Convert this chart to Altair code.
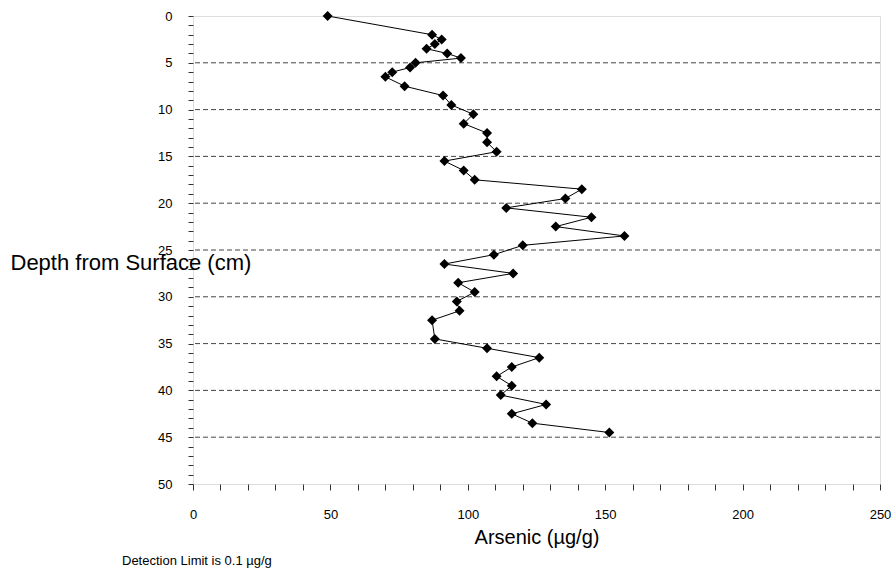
import altair as alt
import pandas as pd

depth = [0, 2, 2.5, 3, 3.5, 4, 4.5, 5, 5.5, 6, 6.5,
         7.5, 8.5, 9.5, 10.5, 11.5, 12.5, 13.5, 14.5, 15.5, 16.5,
         17.5, 18.5, 19.5, 20.5, 21.5, 22.5, 23.5, 24.5, 25.5, 26.5,
         27.5, 28.5, 29.5, 30.5, 31.5, 32.5,
         34.5, 35.5, 36.5, 37.5, 38.5, 39.5, 40.5, 41.5, 42.5, 43.5, 44.5]
arsenic = [49, 87, 90.5, 88, 85, 92.5, 97.5, 81, 79, 72.5, 70,
           77, 91, 94, 102, 98.5, 107, 107, 110.5, 91.5, 98.5,
           102.5, 141.5, 135.5, 114, 145, 132, 157, 120, 109.5, 91.5,
           116.5, 96.5, 102.5, 96, 97, 87,
           88, 107, 126, 116, 110.5, 116, 112, 128.5, 116, 123.5, 151.5]
grid_depths = [5, 10, 15, 20, 25, 30, 35, 40, 45]
x_ticks = list(range(0, 251, 10))
y_ticks = list(range(0, 51, 1))

FONT = "Liberation Sans"

df = pd.DataFrame({"depth": depth, "arsenic": arsenic})
gdf = pd.DataFrame({"depth": grid_depths})

xscale = alt.Scale(domain=[0, 250], nice=False, zero=False)
yscale = alt.Scale(domain=[0, 50], reverse=True, nice=False, zero=False)

x_axis = alt.Axis(values=x_ticks, title="Arsenic (µg/g)",
                  labelExpr="datum.value % 50 === 0 ? datum.label : ''",
                  labelOverlap=False, labelFlush=False,
                  grid=False, tickSize=6, tickColor="#333", domain=False,
                  labelPadding=18, labelFontSize=13, labelFont=FONT, labelColor="black",
                  titleFont=FONT, titleFontSize=20, titleFontWeight="normal",
                  titleColor="black", titlePadding=6)
y_axis = alt.Axis(values=y_ticks, title="Depth from Surface (cm)",
                  labelExpr="datum.value % 5 === 0 ? datum.label : ''",
                  labelOverlap=False, labelFlush=False,
                  grid=False, tickSize=5, tickColor="#333", domain=False,
                  labelPadding=16, labelFontSize=13, labelFont=FONT, labelColor="black",
                  titleFont=FONT, titleFontSize=22, titleFontWeight="normal",
                  titleColor="black", titleAngle=0, titleAlign="left",
                  titleBaseline="middle", titleX=-183, titleY=246)

grid = alt.Chart(gdf).mark_rule(color="#444", strokeWidth=1, strokeDash=[5, 3]).encode(
    y=alt.Y("depth:Q", scale=yscale, axis=y_axis)
)

line = alt.Chart(df).mark_line(color="black", strokeWidth=1).encode(
    x=alt.X("arsenic:Q", scale=xscale, axis=x_axis),
    y=alt.Y("depth:Q", scale=yscale, axis=y_axis),
    order="depth:Q"
)
points = alt.Chart(df).mark_point(shape="diamond", filled=True, color="black",
                                  size=100, opacity=1).encode(
    x=alt.X("arsenic:Q", scale=xscale, axis=x_axis),
    y=alt.Y("depth:Q", scale=yscale, axis=y_axis)
)

chart = alt.layer(grid, line, points).properties(
    width=687, height=468,
    padding={"left": 193, "top": 16, "right": 16, "bottom": 91},
    autosize=alt.AutoSizeParams(type="none"),
    title=alt.TitleParams("Detection Limit is 0.1 µg/g", orient="bottom", anchor="start",
                          frame="group",
                          font=FONT, fontSize=13, fontWeight="normal", color="black",
                          dx=-71, offset=8),
).configure_view(stroke="#333", strokeWidth=1.5).configure(background="white")

chart.save("out.html", embed_options={"renderer": "svg", "actions": False})
